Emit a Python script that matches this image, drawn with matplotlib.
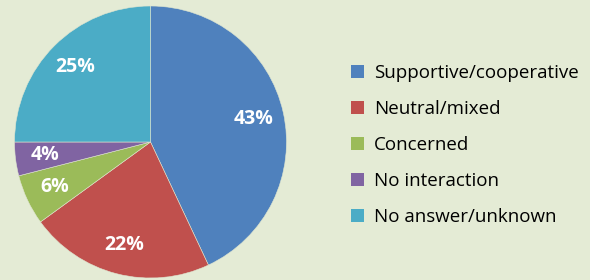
import matplotlib.pyplot as plt
import numpy as np

# data
labels = ["Supportive/cooperative", "Neutral/mixed", "Concerned", "No interaction", "No answer/unknown"]
shares = [43, 22, 6, 4, 25]
colors = ["#4f81bd", "#c0504d", "#9bbb59", "#8064a2", "#4bacc6"]
bg = "#e4ebd5"

plt.rcParams['font.family'] = ['Open Sans', 'DejaVu Sans']

fig = plt.figure(figsize=(5.9, 2.8), dpi=100, facecolor=bg)
W, H = 590, 280
cx, cy, r = 150.5, 142, 136
ax = fig.add_axes([(cx - r) / W, (H - cy - r) / H, 2 * r / W, 2 * r / H])
ax.set_facecolor(bg)

wedges, texts, autotexts = ax.pie(
    shares, colors=colors, startangle=90, counterclock=False,
    autopct=lambda p: "%d%%" % round(p), pctdistance=0.78,
    wedgeprops=dict(linewidth=0.4, edgecolor="#dfe6d0"),
    textprops=dict(color="white", fontsize=14, fontweight="bold"))
ax.set_xlim(-1, 1)
ax.set_ylim(-1, 1)
ax.set_aspect("equal")
ax.axis("off")

leg = fig.legend(wedges, labels, loc="upper left", bbox_to_anchor=(343 / W, 1 - 57 / H),
                 frameon=False, fontsize=13.5, handlelength=0.7, handleheight=0.7,
                 handletextpad=0.55, labelspacing=0.95, borderaxespad=0)
for h in leg.legend_handles:
    h.set_linewidth(0)

fig.savefig("out.png", dpi=100, facecolor=bg)
